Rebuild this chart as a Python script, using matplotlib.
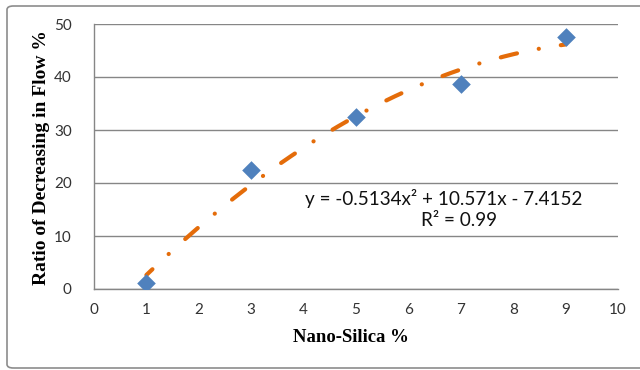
import numpy as np
import matplotlib.pyplot as plt
from matplotlib.patches import FancyBboxPatch

plt.rcParams["lines.scale_dashes"] = False

# measured points
silica = [1, 3, 5, 7, 9]
flow_drop = [1.1, 22.5, 32.5, 38.7, 47.5]

# polynomial trendline shown on the chart
trend_coef = [-0.5134, 10.571, -7.4152]
eq_text = "y = -0.5134x\u00b2 + 10.571x - 7.4152"
r2_text = "R\u00b2 = 0.99"

x_ticks = list(range(0, 11))
y_ticks = [0, 10, 20, 30, 40, 50]

blue = "#4F81BD"
orange = "#E46C0A"
grid_c = "#868686"

fig = plt.figure(figsize=(6.4, 3.7), dpi=100)
ax = fig.add_axes([94 / 640, 1 - 289 / 370, 524 / 640, 265 / 370])

xs = np.linspace(silica[0], silica[-1], 400)
ax.plot(xs, np.polyval(trend_coef, xs), color=orange, lw=3,
        linestyle=(6, (12, 16, 0.1, 16)), dash_capstyle="round",
        zorder=3)

ax.scatter(silica, flow_drop, marker="D", s=90, color=blue, zorder=4,
           linewidths=0)

ax.set_xlim(0, 10)
ax.set_ylim(0, 50)
ax.set_xticks(x_ticks)
ax.set_yticks(y_ticks)
ax.yaxis.grid(True, color=grid_c, lw=1)
ax.set_axisbelow(True)
for s in ["top", "right"]:
    ax.spines[s].set_visible(False)
for s in ["left", "bottom"]:
    ax.spines[s].set_color(grid_c)
    ax.spines[s].set_linewidth(1)
ax.tick_params(length=0, labelsize=11, labelcolor="#333333")
ax.tick_params(axis="y", pad=16)
ax.tick_params(axis="x", pad=10)
for lab in ax.get_xticklabels() + ax.get_yticklabels():
    lab.set_fontfamily("Lato")

fig.text(42 / 640, 1 - 158 / 370, "Ratio of Decreasing in Flow %",
         rotation=90, ha="center", va="center", fontsize=14,
         fontweight="bold", family="Liberation Serif")
fig.text(351 / 640, 1 - 337 / 370, "Nano-Silica %", ha="center",
         va="center", fontsize=13.5, fontweight="bold",
         family="Liberation Serif")

fig.text(444 / 640, 1 - 199 / 370, eq_text, ha="center", va="center",
         fontsize=13.6, family="Lato", color="#111111")
fig.text(459 / 640, 1 - 221 / 370, r2_text, ha="center", va="center",
         fontsize=13.6, family="Lato", color="#111111")

border = FancyBboxPatch((7 / 640, 2 / 370), 640 / 640, 362 / 370,
                        boxstyle="round,pad=0,rounding_size=0.01",
                        transform=fig.transFigure, fill=False,
                        edgecolor="#8c8c8c", lw=1.2)
fig.patches.append(border)

fig.savefig("out.png", dpi=100)
